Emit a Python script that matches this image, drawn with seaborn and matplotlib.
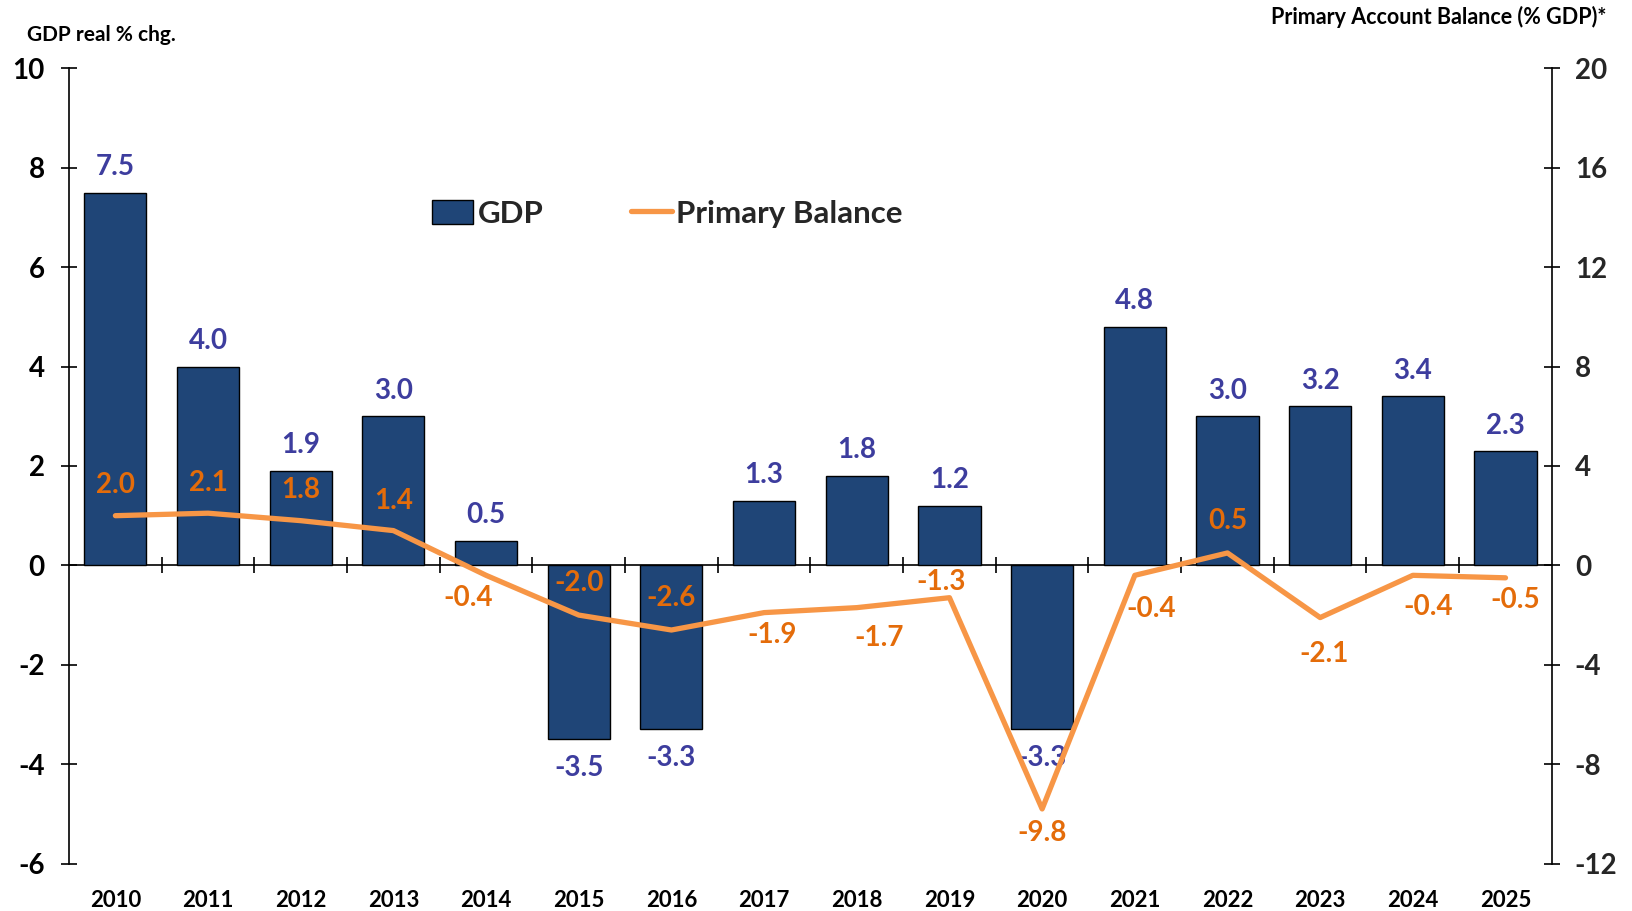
import numpy as np
import pandas as pd
import matplotlib
matplotlib.use("Agg")
import matplotlib.pyplot as plt
from matplotlib.patches import Patch
from matplotlib.lines import Line2D
import seaborn as sns

years = ["2010", "2011", "2012", "2013", "2014", "2015", "2016", "2017",
         "2018", "2019", "2020", "2021", "2022", "2023", "2024", "2025"]
gdp = [7.5, 4.0, 1.9, 3.0, 0.5, -3.5, -3.3, 1.3, 1.8, 1.2, -3.3, 4.8, 3.0, 3.2, 3.4, 2.3]
primary_balance = [2.0, 2.1, 1.8, 1.4, -0.4, -2.0, -2.6, -1.9, -1.7, -1.3, -9.8,
                   -0.4, 0.5, -2.1, -0.4, -0.5]
left_ticks = [-6, -4, -2, 0, 2, 4, 6, 8, 10]
right_ticks = [-12, -8, -4, 0, 4, 8, 12, 16, 20]

# label offsets (points) for the primary balance labels
pb_label_dx = [0, 0, 0, 0, -13, 0, 0, 6, 16, -6, 0, 12, 0, 3, 11, 7]
pb_label_dy = [22, 22, 22, 21, -16, 23, 23, -16, -22, 11, -17, -24, 23, -26, -23, -16]

sns.set_theme(style="white")
plt.rcParams["font.family"] = ["Lato", "DejaVu Sans"]
plt.rcParams["axes.unicode_minus"] = False

BAR = "#1F4577"
LINE = "#F79646"
GDP_TXT = "#3D3D9E"
PB_TXT = "#E46C0A"

fig = plt.figure(figsize=(16.33, 9.11), dpi=100)
ax = fig.add_axes([0.0423, 0.052, 0.908, 0.873])

df = pd.DataFrame({"year": years, "gdp": gdp})
sns.barplot(data=df, x="year", y="gdp", ax=ax, color=BAR, saturation=1,
            edgecolor="black", linewidth=1.0, width=0.67)
ax.set_xlim(-0.5, len(years) - 0.5)
ax.set_ylim(left_ticks[0], left_ticks[-1])
ax.set_yticks(left_ticks)
ax.set_yticklabels([str(t) for t in left_ticks])
ax.set_xlabel("")
ax.set_ylabel("")
for s in ["top", "right", "bottom"]:
    ax.spines[s].set_visible(False)
ax.spines["left"].set_color("black")
ax.spines["left"].set_linewidth(1.2)
ax.tick_params(axis="y", direction="inout", length=11, width=1.2, color="black",
               pad=12, labelsize=20, left=True)
ax.tick_params(axis="x", length=0, pad=19, labelsize=16)
for lbl in ax.get_yticklabels() + ax.get_xticklabels():
    lbl.set_fontweight("bold")
    lbl.set_color("black")

# zero line with separating ticks
zero_frac = -left_ticks[0] / (left_ticks[-1] - left_ticks[0])
sec = ax.secondary_xaxis(zero_frac)
sec.spines["bottom"].set_color("black")
sec.spines["bottom"].set_linewidth(1.2)
sec.set_xticks(np.arange(len(years) - 1) + 0.5)
sec.set_xticklabels([])
sec.tick_params(axis="x", direction="inout", length=11, width=1.2, color="black")

# GDP labels
for i, v in enumerate(gdp):
    ax.annotate(f"{v:.1f}", (i, v), xytext=(0, 9 if v >= 0 else -11),
                textcoords="offset points", ha="center",
                va="bottom" if v >= 0 else "top", fontsize=20,
                fontweight="bold", color=GDP_TXT)

ax2 = ax.twinx()
sns.lineplot(x=np.arange(len(years)), y=primary_balance, ax=ax2, color=LINE,
             linewidth=3.8, legend=False)
ax2.set_ylim(right_ticks[0], right_ticks[-1])
ax2.set_yticks(right_ticks)
ax2.set_yticklabels([str(t) for t in right_ticks])
for s in ["top", "left", "bottom"]:
    ax2.spines[s].set_visible(False)
ax2.spines["right"].set_color("black")
ax2.spines["right"].set_linewidth(1.2)
ax2.tick_params(axis="y", direction="inout", length=11, width=1.2, color="black",
                pad=11, labelsize=20, right=True)
for lbl in ax2.get_yticklabels():
    lbl.set_fontweight("bold")
ax2.set_ylabel("")

for i, v in enumerate(primary_balance):
    ax2.annotate(f"{v:.1f}", (i, v), xytext=(pb_label_dx[i], pb_label_dy[i]),
                 textcoords="offset points", ha="center", va="center",
                 fontsize=20, fontweight="bold", color=PB_TXT)

handles = [Patch(facecolor=BAR, edgecolor="black", linewidth=1.0, label="GDP"),
           Line2D([0], [0], color=LINE, linewidth=3.8, label="Primary Balance")]
ax2.legend(handles=handles, loc="center left", bbox_to_anchor=(0.226, 0.817),
           ncol=2, frameon=False, handlelength=1.3,
           handleheight=0.8, handletextpad=0.15, columnspacing=2.8,
           prop={"weight": "bold", "size": 22.5})

fig.text(0.0165, 0.962, "GDP real % chg.", fontsize=15, fontweight="bold",
         ha="left", va="center", color="black")
fig.text(0.984, 0.981, "Primary Account Balance (% GDP)*", fontsize=15.5,
         fontweight="bold", ha="right", va="center", color="black")

fig.savefig("out.png", dpi=100)
